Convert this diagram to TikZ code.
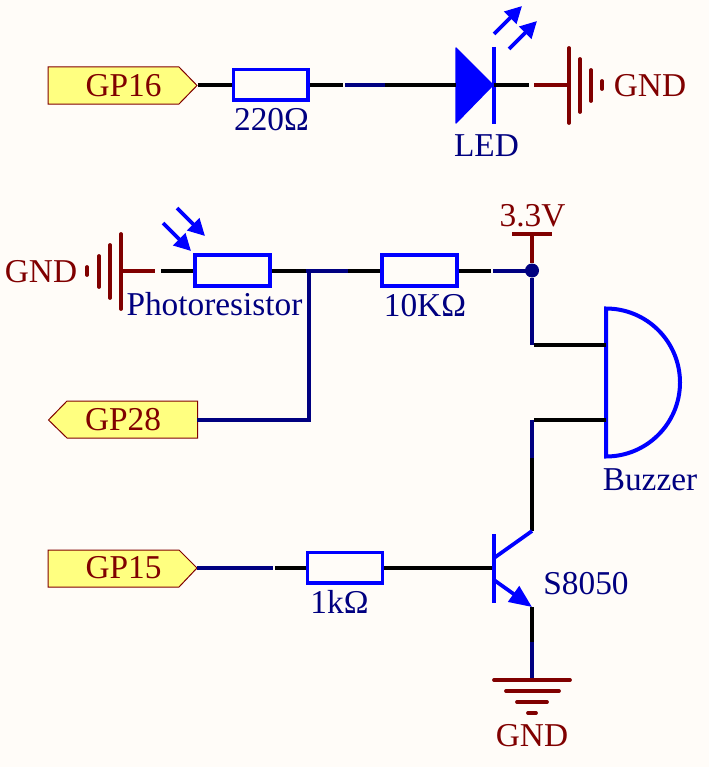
\documentclass[tikz,border=0pt]{standalone}
\usepackage{fontspec}
\setmainfont{Liberation Serif}
\usetikzlibrary{arrows.meta}
\definecolor{paperbg}{HTML}{FFFCF8}
\definecolor{netnavy}{HTML}{000080}
\definecolor{powred}{HTML}{800000}
\definecolor{partblue}{HTML}{0000FF}
\definecolor{portfill}{HTML}{FFFF80}
\tikzset{
wire/.style={line width=3pt,black},
navywire/.style={line width=3pt,netnavy},
powerwire/.style={line width=3pt,powred},
powerbar/.style={line width=2.8pt,powred,line cap=round},
part/.style={line width=2.8pt,partblue},
resistor/.style={draw=partblue,line width=2.7pt,minimum width=56pt,minimum height=23pt,inner sep=0pt},
light/.style={part,-{Triangle[length=12.5pt,width=12.5pt]}},
port/.style={draw=powred,fill=portfill,line width=0.75pt},
portname/.style={text=powred,anchor=base,inner sep=0pt,font=\fontsize{25pt}{25pt}\selectfont},
partname/.style={text=netnavy,anchor=base,inner sep=0pt,font=\fontsize{25pt}{25pt}\selectfont}
}

\begin{document}
\begin{tikzpicture}[x=0.75pt,y=0.75pt,yscale=-1,xscale=1]
\useasboundingbox (0,0) rectangle (709,767);
\fill [paperbg] (0,0) rectangle (709,767);

%Ports
\draw [port] (48,67) -- (179,67) -- (197,85.5) -- (179,104) -- (48,104) -- cycle ;
\draw [port] (197.5,401) -- (67,401) -- (48.5,420) -- (67,438) -- (197.5,438) -- cycle ;
\draw [port] (48,550) -- (179,550) -- (197,568) -- (179,587) -- (48,587) -- cycle ;
\node [portname] (gp16) at (123.5,97) {GP16};
\node [portname] (gp28) at (123,430) {GP28};
\node [portname] (gp15) at (123.5,578) {GP15};
\coordinate (gp16out) at (198,84.7);
\coordinate (gp28out) at (197,420);
\coordinate (gp15out) at (197,567.8);

%Resistors
\node [resistor] (r220) at (270.7,84.7) {};
\node [resistor] (ldr) at (232.5,270.5) {};
\node [resistor] (r10k) at (419.5,270.5) {};
\node [resistor] (r1k) at (345,567.8) {};

%LED
\coordinate (ledin) at (456,84.7);
\coordinate (ledout) at (494,84.7);
\fill [partblue,line join=round,draw=partblue,line width=1pt] (456,48) -- (493,85) -- (456,123) -- cycle ;
\draw [part] (494,47) -- (494,124) ;
\draw [light] (494,34) -- (522,6) ;
\draw [light] (509,49) -- (537,21) ;

%Top line
\coordinate (n1) at (343,84.7);
\coordinate (n2) at (345,84.7);
\coordinate (n3) at (385,84.7);
\coordinate (n4) at (529,84.7);
\coordinate (n5) at (534,84.7);
\coordinate (gnda) at (568,84.7);
\draw [wire] (gp16out) -- (r220.west) ;
\draw [wire] (r220.east) -- (n1) ;
\draw [navywire] (n2) -- (n3) ;
\draw [wire] (n3) -- (ledin) ;
\draw [wire] (ledout) -- (n4) ;
\draw [powerwire] (n5) -- (gnda) ;

%Top GND
\draw [powerbar] (569,48) -- (569,123) ;
\draw [powerbar] (580,59) -- (580,112) ;
\draw [powerbar] (591,70) -- (591,101) ;
\draw [powerbar] (602,81) -- (602,89) ;
\node [portname] (gndtop) at (650,96) {GND};

%Left GND
\draw [powerbar] (121,234) -- (121,309) ;
\draw [powerbar] (110,245) -- (110,298) ;
\draw [powerbar] (99,256) -- (99,287) ;
\draw [powerbar] (87,267) -- (87,275) ;
\node [portname] (gndleft) at (41,282) {GND};

%Middle line
\coordinate (gndb) at (122,270.5);
\coordinate (n6) at (155,270.5);
\coordinate (n7) at (161,270.5);
\coordinate (tee) at (309,269);
\coordinate (n8) at (306,270.5);
\coordinate (n9) at (348,270.5);
\coordinate (n10) at (491,270.5);
\coordinate (n11) at (493,270.5);
\coordinate (corner) at (309,420);
\draw [powerwire] (gndb) -- (n6) ;
\draw [wire] (n7) -- (ldr.west) ;
\draw [wire] (ldr.east) -- (n8) ;
\draw [navywire] (n8) -- (n9) ;
\draw [wire] (n9) -- (r10k.west) ;
\draw [wire] (r10k.east) -- (n10) ;
\draw [navywire] (n11) -- (532,270.5) ;
\draw [navywire] (tee) -- (corner) -- (gp28out) ;
\draw [light] (163,223) -- (191,251) ;
\draw [light] (177,208) -- (205,236) ;

%3.3V
\node [circle,fill=netnavy,minimum size=10.5pt,inner sep=0pt] (vcc) at (532,270.5) {};
\coordinate (vcctop) at (532,234);
\draw [powerwire] (vcc) -- (vcctop) ;
\draw [powerwire] (512,234) -- (552,234) ;
\node [portname] (vccname) at (532.5,226) {3.3V};

%Buzzer
\coordinate (bz1) at (606,345);
\coordinate (bz2) at (606,420);
\coordinate (n12) at (532,345);
\coordinate (n13) at (534,345);
\coordinate (n14) at (532,420);
\coordinate (n15) at (534,420);
\coordinate (n16) at (532,458);
\coordinate (coll) at (532,531);
\draw [line width=3pt,partblue,line join=miter] (606,308.5) arc (-90:90:74) -- cycle ;
\draw [navywire] (vcc) -- (n12) ;
\draw [wire] (n13) -- (bz1) ;
\draw [wire] (n15) -- (bz2) ;
\draw [navywire] (n14) -- (n16) ;
\draw [wire] (n16) -- (coll) ;

%Transistor
\coordinate (n17) at (273,567.8);
\coordinate (n18) at (275,567.8);
\coordinate (base) at (494,567.8);
\coordinate (emit) at (532,607);
\coordinate (n19) at (532,642);
\coordinate (gndc) at (532,680);
\draw [navywire] (gp15out) -- (n17) ;
\draw [wire] (n18) -- (r1k.west) ;
\draw [wire] (r1k.east) -- (base) ;
\draw [part] (494,534) -- (494,603) ;
\draw [part] (494,558) -- (coll) ;
\draw [part,-{Triangle[length=17pt,width=14pt]}] (494,580) -- (emit) ;
\draw [wire] (emit) -- (n19) ;
\draw [navywire] (n19) -- (gndc) ;

%Bottom GND
\draw [powerbar] (494,680) -- (570,680) ;
\draw [powerbar] (506,691) -- (559,691) ;
\draw [powerbar] (517,702) -- (547,702) ;
\draw [powerbar] (528,713) -- (536,713) ;
\node [portname] (gndbot) at (532,746) {GND};

%Part names
\node [partname] (name220) at (271.5,130) {220Ω};
\node [partname] (nameled) at (486.5,156) {LED};
\node [partname] (nameldr) at (214.5,315) {Photoresistor};
\node [partname] (name10k) at (425,316) {10KΩ};
\node [partname] (namebz) at (650,490) {Buzzer};
\node [partname] (nameq) at (586,594) {S8050};
\node [partname] (name1k) at (339.5,613) {1kΩ};

\end{tikzpicture}
\end{document}
